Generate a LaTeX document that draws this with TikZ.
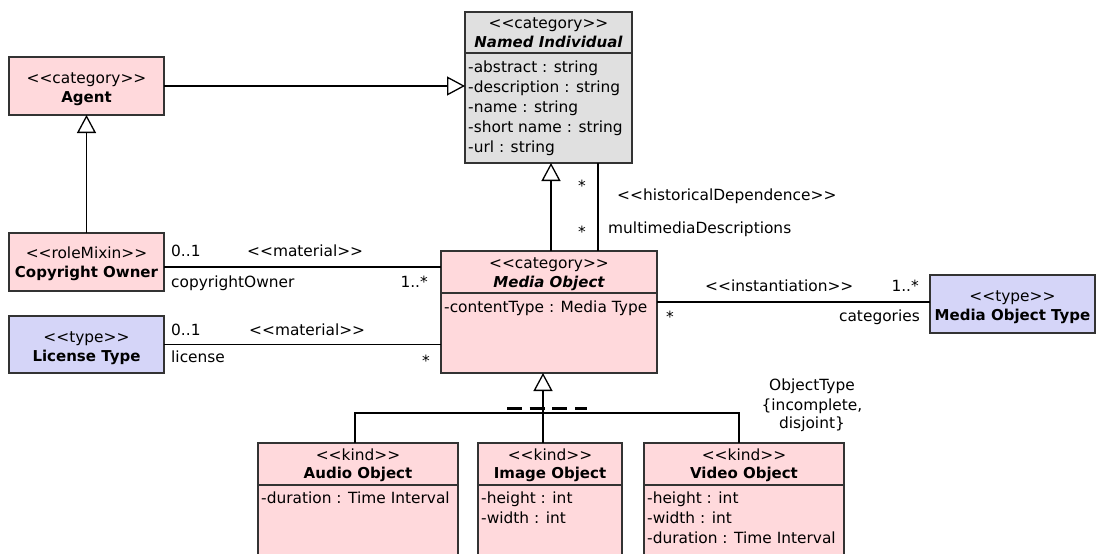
\documentclass[tikz,border=0pt]{standalone}
\usepackage{fontspec}
\setmainfont{DejaVu Sans}
\usetikzlibrary{arrows.meta}
\definecolor{kindpink}{HTML}{FFD9DC}
\definecolor{typeblue}{HTML}{D5D5F8}
\definecolor{abstgray}{HTML}{E0E0E0}
\definecolor{edgegray}{HTML}{333333}

\begin{document}
\begin{tikzpicture}[x=1pt,y=-1pt,
  font=\fontsize{15.4}{19}\selectfont,
  umlbox/.style={draw=edgegray, line width=1.4pt, inner sep=0pt, outer sep=0pt},
  pinkbox/.style={umlbox, fill=kindpink},
  bluebox/.style={umlbox, fill=typeblue},
  graybox/.style={umlbox, fill=abstgray},
  txt/.style={inner sep=0pt, anchor=base},
  ltxt/.style={inner sep=0pt, anchor=base west},
  rtxt/.style={inner sep=0pt, anchor=base east},
  bname/.style={txt, font=\fontsize{15}{19}\selectfont\bfseries},
  biname/.style={txt, font=\fontsize{15}{19}\selectfont\bfseries\itshape},
  conn/.style={draw=black, line width=1.3pt},
  gen/.style={conn, -{Triangle[open, length=18pt, width=19pt, line width=1.3pt]}},
  divider/.style={draw=edgegray, line width=1.4pt}
]
\useasboundingbox (0,0) rectangle (1096,554);
\clip (0,0) rectangle (1096,554);
\fill[white] (0,0) rectangle (1096,554);

% ---------- classes ----------
\node[graybox, minimum width=167pt, minimum height=151pt] (ni) at (548.5,87.5) {};
\node[pinkbox, minimum width=155pt, minimum height=58pt] (agent) at (86.5,86) {};
\node[pinkbox, minimum width=155pt, minimum height=58pt] (co) at (86.5,262) {};
\node[bluebox, minimum width=155pt, minimum height=57pt] (lt) at (86.5,344.5) {};
\node[pinkbox, minimum width=216pt, minimum height=122pt] (mo) at (549,312) {};
\node[bluebox, minimum width=165pt, minimum height=58pt] (mot) at (1012.5,304) {};
\node[pinkbox, minimum width=200pt, minimum height=137pt] (ao) at (358,511.5) {};
\node[pinkbox, minimum width=144pt, minimum height=137pt] (io) at (550,511.5) {};
\node[pinkbox, minimum width=200pt, minimum height=137pt] (vo) at (744,511.5) {};

% compartment dividers
\draw[divider] (ni.west |- 0,53) -- (ni.east |- 0,53);
\draw[divider] (mo.west |- 0,293) -- (mo.east |- 0,293);
\draw[divider] (ao.west |- 0,485) -- (ao.east |- 0,485);
\draw[divider] (io.west |- 0,485) -- (io.east |- 0,485);
\draw[divider] (vo.west |- 0,485) -- (vo.east |- 0,485);

% ---------- class texts ----------
\node[txt] (ni-st) at (548.5,28) {<{}<category>{}>};
\node[biname] (ni-nm) at (548.5,47) {Named Individual};
\node[ltxt] (ni-a1) at (468,72) {-abstract : string};
\node[ltxt] (ni-a2) at (468,92) {-description : string};
\node[ltxt] (ni-a3) at (468,112) {-name : string};
\node[ltxt] (ni-a4) at (468,132) {-short name : string};
\node[ltxt] (ni-a5) at (468,152) {-url : string};

\node[txt] (agent-st) at (86.5,83) {<{}<category>{}>};
\node[bname] (agent-nm) at (86.5,102) {Agent};

\node[txt] (co-st) at (86.5,258) {<{}<roleMixin>{}>};
\node[bname] (co-nm) at (86.5,277) {Copyright Owner};

\node[txt] (lt-st) at (86.5,342) {<{}<type>{}>};
\node[bname] (lt-nm) at (86.5,361) {License Type};

\node[txt] (mo-st) at (549,268) {<{}<category>{}>};
\node[biname] (mo-nm) at (549,287) {Media Object};
\node[ltxt] (mo-a1) at (444,312) {-contentType : Media Type};

\node[txt] (mot-st) at (1012.5,301) {<{}<type>{}>};
\node[bname] (mot-nm) at (1012.5,320) {Media Object Type};

\node[txt] (ao-st) at (358,460) {<{}<kind>{}>};
\node[bname] (ao-nm) at (358,478) {Audio Object};
\node[ltxt] (ao-a1) at (261,503) {-duration : Time Interval};

\node[txt] (io-st) at (550,460) {<{}<kind>{}>};
\node[bname] (io-nm) at (550,478) {Image Object};
\node[ltxt] (io-a1) at (481,503) {-height : int};
\node[ltxt] (io-a2) at (481,523) {-width : int};

\node[txt] (vo-st) at (744,460) {<{}<kind>{}>};
\node[bname] (vo-nm) at (744,478) {Video Object};
\node[ltxt] (vo-a1) at (647,503) {-height : int};
\node[ltxt] (vo-a2) at (647,523) {-width : int};
\node[ltxt] (vo-a3) at (647,543) {-duration : Time Interval};

% ---------- generalizations ----------
\draw[gen] (agent.east) -- (agent.east -| ni.west);
\draw[gen] (co.north) -- (agent.south);
\draw[gen] ([xshift=2pt]mo.north) -- ([xshift=2pt]mo.north |- ni.south);

% generalization set ObjectType
\coordinate (gs) at (543,413);
\draw[gen] (gs) -- (gs |- mo.south);
\draw[conn] (gs) -- (gs |- io.north);
\draw[conn] ([xshift=-3pt]ao.north) -- ([xshift=-3pt]ao.north |- gs)
            -- ([xshift=-5pt]vo.north |- gs) -- ([xshift=-5pt]vo.north);
\draw[black, line width=3pt, dash pattern=on 15pt off 7.7pt] (507,408) -- (587,408);
\node[txt] (ot-1) at (812,390) {ObjectType};
\node[txt] (ot-2) at (812,410) {\{incomplete,};
\node[txt] (ot-3) at (812,428) {disjoint\}};

% ---------- associations ----------
% historical dependence
\draw[conn] ([xshift=49pt]mo.north) -- ([xshift=49pt]mo.north |- ni.south);
\node[txt] (hd-m1) at (582,191) {*};
\node[txt] (hd-m2) at (582,237) {*};
\node[ltxt] (hd-st) at (617,200) {<{}<historicalDependence>{}>};
\node[ltxt] (hd-rl) at (608,233) {multimediaDescriptions};

% copyright owner
\draw[conn] ([yshift=-5pt]co.east) -- ([yshift=-5pt]co.east -| mo.west);
\node[ltxt] (cw-m1) at (171,256) {0..1};
\node[ltxt] (cw-st) at (247,256) {<{}<material>{}>};
\node[ltxt] (cw-rl) at (171,287) {copyrightOwner};
\node[rtxt] (cw-m2) at (428,287) {1..*};

% license
\draw[conn] (lt.east) -- (lt.east -| mo.west);
\node[ltxt] (li-m1) at (171,335) {0..1};
\node[ltxt] (li-st) at (249,335) {<{}<material>{}>};
\node[ltxt] (li-rl) at (171,362) {license};
\node[txt] (li-m2) at (426,366) {*};

% instantiation
\draw[conn] ([yshift=2pt]mot.west) -- ([yshift=2pt]mot.west -| mo.east);
\node[ltxt] (in-st) at (705,291) {<{}<instantiation>{}>};
\node[rtxt] (in-m1) at (919,291) {1..*};
\node[txt] (in-m2) at (670,322) {*};
\node[rtxt] (in-rl) at (920,321) {categories};
\end{tikzpicture}
\end{document}
